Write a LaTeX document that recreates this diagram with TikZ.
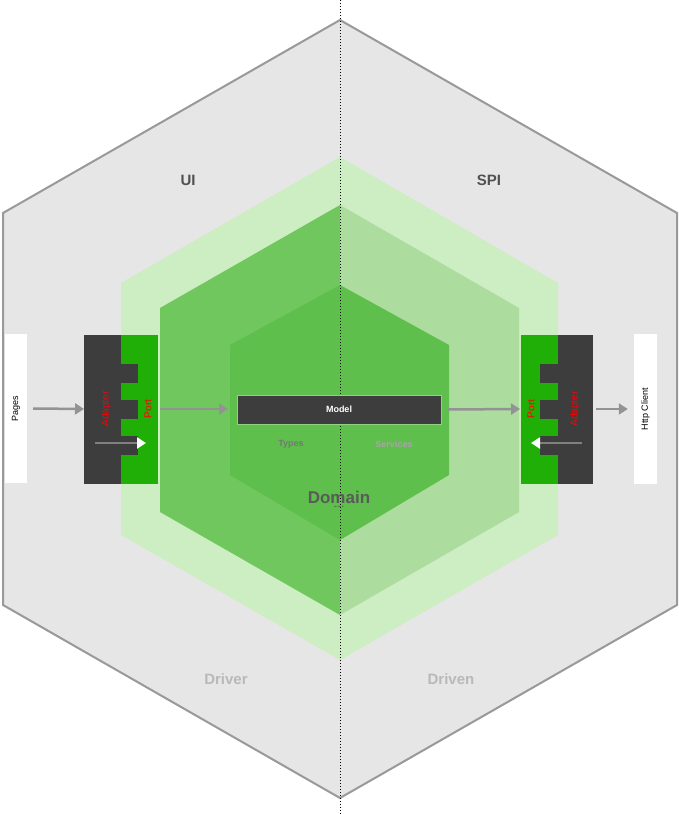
\documentclass[tikz,border=0pt]{standalone}
\usepackage{fontspec}
\setmainfont{Liberation Sans}
\usetikzlibrary{arrows.meta}
\definecolor{outerg}{HTML}{E6E6E6}
\definecolor{lightg}{HTML}{CDEDC2}
\definecolor{midl}{HTML}{70C75D}
\definecolor{midr}{HTML}{ADDC9F}
\definecolor{inner}{HTML}{5EBF4C}
\definecolor{dark}{HTML}{3D3D3D}
\definecolor{portg}{HTML}{1FAF06}
\tikzset{
  flow/.style={draw=gray!85, line width=2.5pt, -{Triangle[length=9pt,width=11pt]}},
  inarrow/.style={draw=gray, line width=2.5pt, -{Triangle[length=9pt,width=11pt,color=white,fill=white]}},
  extbox/.style={fill=white, draw=none},
  lbl/.style={font=\bfseries\fontsize{15}{15}\selectfont},
  vlbl/.style={text=red, font=\fontsize{10}{10}\selectfont, rotate=90}
}
\begin{document}
\begin{tikzpicture}[x=1pt,y=-1pt]
\useasboundingbox (0,0) rectangle (679,814);
\fill[white] (0,0) rectangle (679,814);
% outer hexagon
\draw[fill=outerg, draw=gray!80, line width=2pt] (340,20)--(677,213)--(677,605)--(340,798)--(3,605)--(3,213)--cycle;
% light green hexagon
\fill[lightg] (340,157)--(558,283)--(558,535)--(340,660)--(121,535)--(121,283)--cycle;
% middle hexagon halves
\fill[midl] (340,205)--(340,615)--(160,512)--(160,308)--cycle;
\fill[midr] (340,205)--(519,308)--(519,512)--(340,615)--cycle;
% inner
\fill[inner] (340,285)--(449,345)--(449,475)--(340,540)--(230,475)--(230,345)--cycle;
% dotted center line
\draw[dotted, line width=1pt] (340,0)--(340,814);
% labels
\node[lbl, text=dark!90] (ui) at (188,180) {UI};
\node[lbl, text=dark!90] (spi) at (489,180) {SPI};
\node[lbl, text=gray!55] (driver) at (226,679) {Driver};
\node[lbl, text=gray!55] (driven) at (451,679) {Driven};
% model
\node[fill=dark, draw=inner!70!white, minimum width=204pt, minimum height=29pt, text=white, font=\bfseries\small] (model) at (339,409.5) {Model};
\node[font=\bfseries\small, text=dark!70] (types) at (291,444) {Types};
\node[font=\bfseries\small, text=gray!70] (services) at (394,444) {Services};
\node[font=\bfseries\fontsize{17}{17}\selectfont, text=dark!85] (domain) at (339,497) {Domain};
\node[font=\fontsize{2}{2}\selectfont, text=dark] (by) at (339,507) {by Kong To};
% left side
\node[extbox, minimum width=22pt, minimum height=149pt] (pages) at (16,408.5) {};
\node[rotate=90, font=\small] at (pages.center) {Pages};
\fill[dark] (84,335) rectangle (121,484);
\fill[portg] (121,335) rectangle (158,484);
\foreach \y in {364,400,436} \fill[dark] (121,\y) rectangle (138,\y+19);
\coordinate (ladapt) at (84,409);
\coordinate (lport) at (158,409);
\node[vlbl] (ladlbl) at (106,409) {Adapter};
\node[vlbl] (lportlbl) at (148,409) {Port};
\coordinate (lws) at (95,443); \coordinate (lwe) at (146,443);
\draw[inarrow] (lws)--(lwe);
\draw[flow] ([xshift=6pt]pages.east) -- (ladapt);
\draw[flow] ([xshift=2pt]lport) -- (228,409);
% right side
\fill[portg] (521,335) rectangle (558,484);
\fill[dark] (558,335) rectangle (593,484);
\foreach \y in {364,400,436} \fill[dark] (540,\y) rectangle (558,\y+19);
\node[vlbl] (rportlbl) at (531,409) {Port};
\node[vlbl] (radlbl) at (575,409) {Adapter};
\node[extbox, minimum width=23pt, minimum height=150pt] (http) at (645.5,409) {};
\node[rotate=90, font=\small] at (http.center) {Http Client};
\coordinate (rport) at (520,409);
\coordinate (radapt) at (594,409);
\coordinate (rws) at (582,443); \coordinate (rwe) at (531,443);
\draw[inarrow] (rws)--(rwe);
\draw[flow] ([xshift=6pt]model.east) -- (rport);
\draw[flow] ([xshift=2pt]radapt) -- ([xshift=-6pt]http.west);
\end{tikzpicture}
\end{document}
